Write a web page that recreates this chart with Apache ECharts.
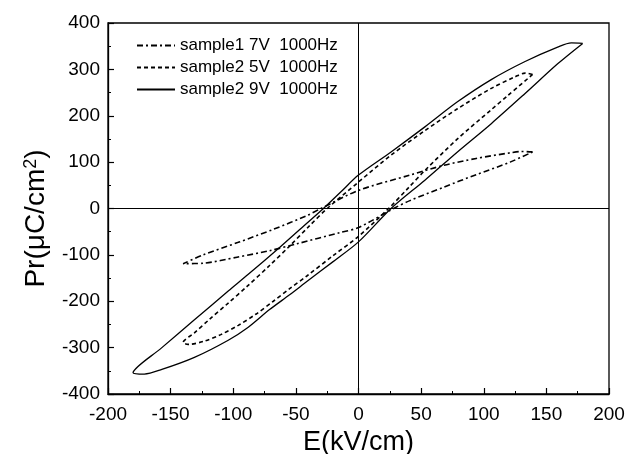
<!DOCTYPE html>
<html>
<head>
<meta charset="utf-8">
<script src="https://cdn.jsdelivr.net/npm/echarts@6/dist/echarts.min.js"></script>
<style>
  html, body { margin: 0; padding: 0; background: #fff; }
  #chart { width: 638px; height: 454px; }
</style>
</head>
<body>
<div id="chart"></div>
<script>
  // axis ranges
  const xRange = [-200, 200, 50];
  const yRange = [-400, 400, 100];

  const names = ['sample1 7V  1000Hz', 'sample2 5V  1000Hz', 'sample2 9V  1000Hz'];

  // each loop: upper branch from +tip to -tip, then lower branch back to +tip
  const s1Upper = [[139,122],[130,123],[121,120],[94,108],[68,93],[41,72],[0,39],[-30,0],[-41,-15],[-68,-45],[-96,-73],[-124,-100],[-140,-119]];
  const s1Lower = [[-140,-119],[-124,-118],[-97,-105],[-71,-91],[-49,-76],[-15,-52],[0,-41],[28,0],[41,17],[68,46],[94,73],[121,100],[139,122]];

  const s2Upper = [[139,289],[133,292],[125,284],[106,259],[79,215],[53,168],[26,115],[0,57],[-25,0],[-39,-37],[-55,-81],[-71,-123],[-89,-168],[-104,-204],[-119,-239],[-131,-268],[-140,-289]];
  const s2Lower = [[-140,-289],[-136,-293],[-123,-286],[-110,-272],[-96,-252],[-82,-228],[-68,-200],[-55,-173],[-41,-145],[-20,-101],[0,-60],[24,0],[40,45],[53,82],[79,150],[106,213],[119,243],[139,289]];

  const s3Upper = [[179,356],[170,357],[159,348],[133,317],[106,278],[79,230],[53,176],[26,122],[0,72],[-14,36],[-28,0],[-48,-48],[-63,-84],[-88,-142],[-104,-178],[-131,-240],[-157,-300],[-180,-354]];
  const s3Lower = [[-180,-354],[-171,-357],[-157,-347],[-131,-321],[-104,-284],[-88,-256],[-71,-218],[-55,-186],[-41,-157],[-20,-114],[0,-72],[26,0],[53,61],[79,122],[106,183],[133,248],[159,312],[179,356]];

  const loops = [s1Upper.concat(s1Lower), s2Upper.concat(s2Lower), s3Upper.concat(s3Lower)];
  const dashes = [[6, 3, 2, 3], [4, 3], 'solid'];
  const widths = [1.6, 1.6, 1.3];

  const font = "'Liberation Sans', Arial, sans-serif";

  let series = [];
  for (let i in loops) {
    series.push({
      name: names[i],
      type: 'line',
      data: loops[i],
      symbol: 'none',
      smooth: 0.3,
      lineStyle: { color: '#000', width: widths[i], type: dashes[i] },
      itemStyle: { color: '#000' }
    });
  }

  // origin cross lines
  series[0].markLine = {
    silent: true,
    symbol: ['none', 'none'],
    label: { show: false },
    lineStyle: { color: '#000', width: 1, type: 'solid' },
    data: [{ xAxis: 0 }, { yAxis: 0 }]
  };

  let axisCommon = {
    type: 'value',
    axisLine: { onZero: false, lineStyle: { color: '#000', width: 1.3 } },
    axisTick: { inside: true, length: 6, lineStyle: { color: '#000', width: 1.2 } },
    minorTick: { show: true, splitNumber: 2, length: 3, lineStyle: { color: '#000', width: 1 } },
    splitLine: { show: false },
    axisLabel: { color: '#000', fontSize: 19, fontFamily: font },
    nameLocation: 'middle'
  };

  let chart = echarts.init(document.getElementById('chart'));
  chart.setOption({
    animation: false,
    backgroundColor: '#fff',
    grid: {
      left: 108, right: 29, top: 23, bottom: 60,
      outerBoundsMode: 'none',
      show: true, borderColor: '#000', borderWidth: 1.3
    },
    legend: {
      orient: 'vertical',
      left: 136,
      top: 37,
      padding: 0,
      itemWidth: 38,
      itemHeight: 14,
      itemGap: 5,
      itemStyle: { opacity: 0 },
      textStyle: { color: '#000', fontSize: 17, fontFamily: font },
      data: names
    },
    xAxis: Object.assign({}, axisCommon, {
      min: xRange[0], max: xRange[1], interval: xRange[2],
      name: 'E(kV/cm)',
      nameGap: 29,
      nameTextStyle: { color: '#000', fontSize: 27, fontFamily: font },
      axisLabel: Object.assign({}, axisCommon.axisLabel, { margin: 11 })
    }),
    yAxis: Object.assign({}, axisCommon, {
      min: yRange[0], max: yRange[1], interval: yRange[2],
      name: 'Pr(μC/cm{sup|2})',
      nameGap: 58,
      nameRotate: 90,
      nameTextStyle: {
        color: '#000', fontSize: 28, fontFamily: font,
        padding: [0, 20, 0, 0],
        rich: { sup: { fontSize: 18, fontFamily: font, color: '#000', verticalAlign: 'top' } }
      },
      axisLabel: Object.assign({}, axisCommon.axisLabel, { margin: 8 })
    }),
    series: series
  });
</script>
</body>
</html>
